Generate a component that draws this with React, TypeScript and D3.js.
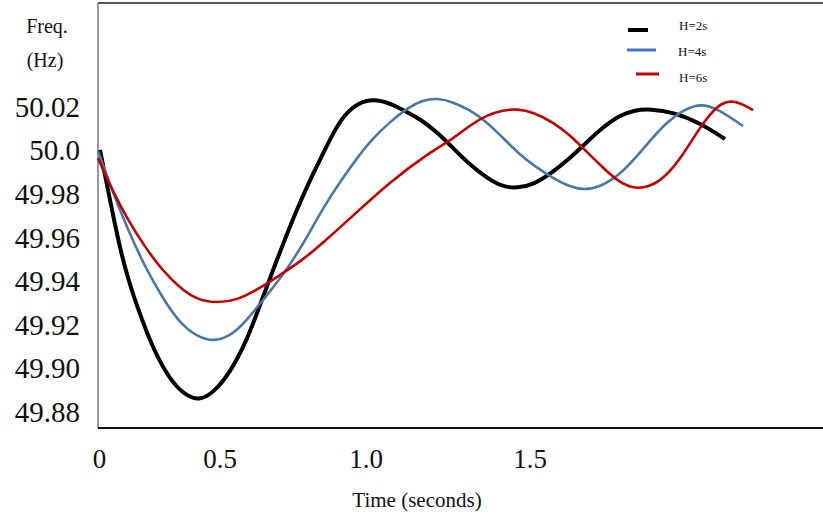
import React from "react";
import * as d3 from "d3";

// ---- data ----
const xTickValues = [0, 0.5, 1.0, 1.5];
const xTickLabels = ["0", "0.5", "1.0", "1.5"];
const yTickValues = [50.02, 50.0, 49.98, 49.96, 49.94, 49.92, 49.9, 49.88];
const yTickLabels = ["50.02", "50.0", "49.98", "49.96", "49.94", "49.92", "49.90", "49.88"];

const seriesNames = ["H=2s", "H=4s", "H=6s"];

const timeH2 = [0.0082, 0.041, 0.082, 0.123, 0.1803, 0.2336, 0.3033, 0.3689, 0.418, 0.4713, 0.5342, 0.5925, 0.6267, 0.6712, 0.7158, 0.7637, 0.8082, 0.8493, 0.887, 0.9281, 0.9726, 1.0213, 1.0732, 1.125, 1.1646, 1.2165, 1.2652, 1.3171, 1.3689, 1.4177, 1.4604, 1.5091, 1.5701, 1.622, 1.6738, 1.7226, 1.7744, 1.8201, 1.8659, 1.936, 2.0183, 2.0945];
const freqH2 = [50.0003, 49.9819, 49.959, 49.9406, 49.9222, 49.9071, 49.8933, 49.8869, 49.8855, 49.8887, 49.8979, 49.9131, 49.9254, 49.9415, 49.9571, 49.9732, 49.9865, 49.9975, 50.0081, 50.0168, 50.0218, 50.0237, 50.0218, 50.0177, 50.0145, 50.0085, 50.0012, 49.9934, 49.9874, 49.9833, 49.9828, 49.9842, 49.9902, 49.9966, 50.0039, 50.0108, 50.0163, 50.0186, 50.0191, 50.0177, 50.0127, 50.0053];

const timeH4 = [0.0, 0.0574, 0.123, 0.1926, 0.2623, 0.3443, 0.4508, 0.5342, 0.5925, 0.6473, 0.7055, 0.7568, 0.7979, 0.8527, 0.911, 0.9692, 1.0213, 1.0732, 1.125, 1.1738, 1.2165, 1.2652, 1.3171, 1.3689, 1.4177, 1.4695, 1.5213, 1.5701, 1.622, 1.6677, 1.7134, 1.7744, 1.8354, 1.9177, 2.0091, 2.0701, 2.1494];
const freqH4 = [49.9998, 49.9819, 49.9635, 49.9466, 49.9328, 49.919, 49.9117, 49.9144, 49.9222, 49.9314, 49.9411, 49.9511, 49.9603, 49.9736, 49.9856, 49.9966, 50.0058, 50.0131, 50.0195, 50.0232, 50.0241, 50.0223, 50.0186, 50.0131, 50.0058, 49.998, 49.9921, 49.9874, 49.9833, 49.9819, 49.9833, 49.9888, 49.9989, 50.014, 50.0223, 50.0195, 50.0113];

const timeH6 = [0.0, 0.0574, 0.123, 0.1926, 0.2623, 0.3443, 0.4098, 0.4918, 0.5582, 0.6267, 0.7055, 0.774, 0.8527, 0.9692, 1.0732, 1.1951, 1.2652, 1.3171, 1.3689, 1.4177, 1.4604, 1.5091, 1.5701, 1.622, 1.6738, 1.7226, 1.7744, 1.8262, 1.8963, 1.9573, 2.0183, 2.0701, 2.1189, 2.1799];
const freqH6 = [49.9966, 49.9819, 49.9681, 49.9557, 49.9452, 49.936, 49.9314, 49.93, 49.9314, 49.936, 49.9429, 49.9489, 49.9576, 49.9718, 49.9856, 49.9993, 50.0053, 50.0117, 50.0163, 50.0186, 50.0191, 50.0177, 50.0131, 50.0071, 49.9993, 49.9921, 49.9851, 49.9819, 49.9851, 49.9957, 50.0108, 50.0209, 50.0237, 50.0186];

const seriesTimes = [timeH2, timeH4, timeH6];
const seriesFreqs = [freqH2, freqH4, freqH6];

// ---- styles ----
const lineColors = ["#000000", "#4a78a4", "#c00000"];
const legendColors = ["#000000", "#4472c4", "#c00000"];
const lineWidths = [4, 2.6, 2.6];
const FONT = "'Liberation Serif', 'Times New Roman', serif";

export default function App() {
  const W = 823;
  const H = 519;
  const left = 98;
  const top = 3;
  const bottom = 428;

  const x = d3.scaleLinear().domain(xTickValues).range([98, 220, 366, 530]);
  const y = d3.scaleLinear().domain([49.88, 50.02]).range([412, 107]);

  const line = d3
    .line<[number, number]>()
    .x((d) => x(d[0]))
    .y((d) => y(d[1]))
    .curve(d3.curveBasis);

  const legendRows = [
    { x1: 628, x2: 648, ly: 30, tx: 679, ty: 30, w: 4 },
    { x1: 627, x2: 656, ly: 50, tx: 678, ty: 56, w: 3 },
    { x1: 636, x2: 659, ly: 74, tx: 679, ty: 82, w: 3 },
  ];

  return (
    <svg
      width={W}
      height={H}
      style={{ position: "absolute", left: 0, top: 0, background: "#fff" }}
      fontFamily={FONT}
    >
      <rect x={0} y={0} width={W} height={H} fill="#fff" />
      {/* frame */}
      <line x1={left} y1={top} x2={W} y2={top} stroke="#222" strokeWidth={1.5} />
      <line x1={left} y1={top} x2={left} y2={bottom} stroke="#555" strokeWidth={1.2} />
      <line x1={left} y1={bottom} x2={W} y2={bottom} stroke="#111" strokeWidth={1.8} />

      {/* curves */}
      {seriesTimes.map((ts, i) => {
        const pts = ts.map((t, j) => [t, seriesFreqs[i][j]] as [number, number]);
        return (
          <path
            key={seriesNames[i]}
            d={line(pts) || ""}
            fill="none"
            stroke={lineColors[i]}
            strokeWidth={lineWidths[i]}
            strokeLinejoin="round"
          />
        );
      })}

      {/* y tick labels */}
      {yTickValues.map((v, i) => (
        <text
          key={"y" + i}
          x={80}
          y={y(v)}
          dy="0.34em"
          textAnchor="end"
          fontSize={29}
          fill="#111"
        >
          {yTickLabels[i]}
        </text>
      ))}

      {/* x tick labels */}
      {xTickValues.map((v, i) => (
        <text
          key={"x" + i}
          x={x(v) + (i === 0 ? 1.5 : 0)}
          y={468}
          textAnchor="middle"
          fontSize={27}
          fill="#111"
        >
          {xTickLabels[i]}
        </text>
      ))}

      {/* axis titles */}
      <text x={47} y={33} textAnchor="middle" fontSize={20} fill="#111">
        Freq.
      </text>
      <text x={45} y={67} textAnchor="middle" fontSize={20} fill="#111">
        (Hz)
      </text>
      <text x={417} y={507} textAnchor="middle" fontSize={21} fill="#111">
        Time (seconds)
      </text>

      {/* legend */}
      {legendRows.map((r, i) => (
        <g key={"lg" + i}>
          <line x1={r.x1} y1={r.ly} x2={r.x2} y2={r.ly} stroke={legendColors[i]} strokeWidth={r.w} />
          <text x={r.tx} y={r.ty} fontSize={13} fill="#111">
            {seriesNames[i]}
          </text>
        </g>
      ))}
    </svg>
  );
}
